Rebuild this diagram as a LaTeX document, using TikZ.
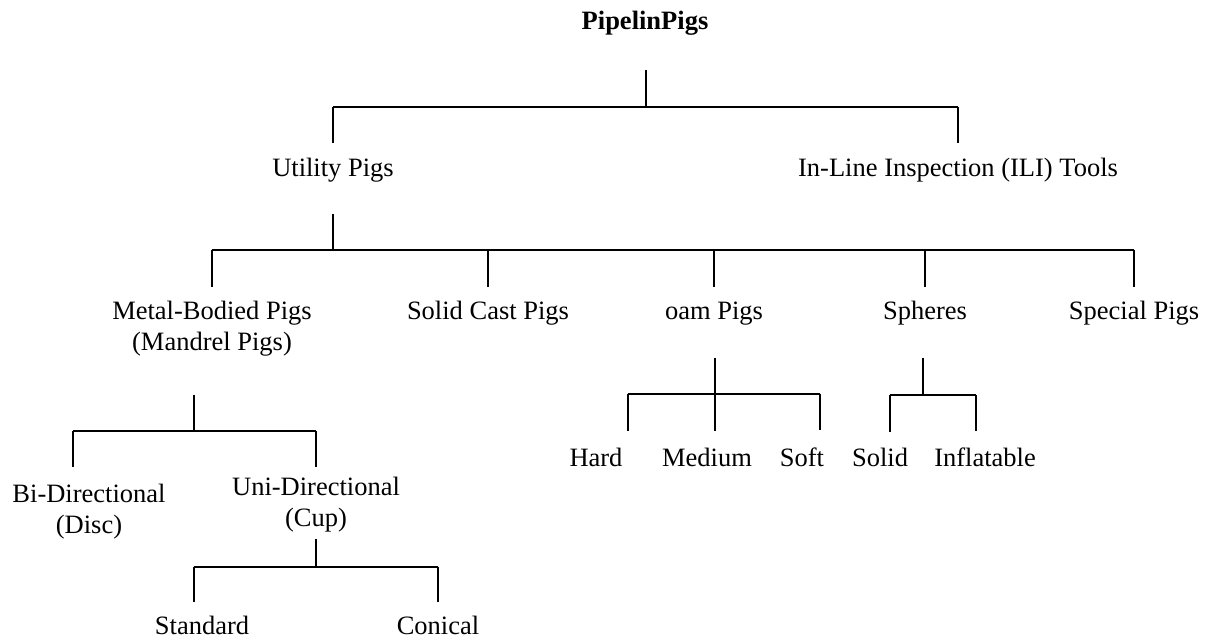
\documentclass[tikz,border=0pt]{standalone}
\usepackage{fontspec}
\setmainfont{Liberation Serif}

\begin{document}
\begin{tikzpicture}[
    x=0.5pt, y=-0.5pt,
    font=\fontsize{13.25}{15.75}\selectfont,
    lab/.style={inner sep=0pt, outer sep=0pt, anchor=base},
    labtwo/.style={inner sep=0pt, outer sep=0pt, anchor=north, align=center},
    bus/.style={line width=1.15pt},
    stem/.style={line width=0.85pt, shorten <=#1},
    drop/.style={line width=0.85pt, shorten >=#1},
    drop/.default=7.5pt
  ]
    \useasboundingbox (0,0) rectangle (1208,637);
    % nodes
    \node[lab, font=\fontsize{13.25}{15.75}\selectfont\bfseries] (root) at (645,29) {PipelinPigs};
    \node[lab] (util) at (333,176) {Utility Pigs};
    \node[lab] (ili) at (958,176) {In-Line Inspection (ILI) Tools};
    \node[labtwo] (metal) at (212,301) {Metal-Bodied Pigs\\(Mandrel Pigs)};
    \node[lab] (solidcast) at (488,319) {Solid Cast Pigs};
    \node[lab] (foam) at (714,319) {oam Pigs};
    \node[lab] (spheres) at (925,319) {Spheres};
    \node[lab] (special) at (1134,319) {Special Pigs};
    \node[labtwo] (bidir) at (89,484) {Bi-Directional\\(Disc)};
    \node[labtwo] (unidir) at (316,477) {Uni-Directional\\(Cup)};
    \node[lab] (standard) at (202,634) {Standard};
    \node[lab] (conical) at (438,634) {Conical};
    \node[lab] (hard) at (596,466) {Hard};
    \node[lab] (medium) at (707,466) {Medium};
    \node[lab] (soft) at (802,466) {Soft};
    \node[lab] (solid) at (880,466) {Solid};
    \node[lab] (inflatable) at (985,466) {Inflatable};
    % junctions
    \coordinate (j0) at (646,107);
    \coordinate (j1) at (333,250);
    \coordinate (j2) at (194,431);
    \coordinate (j3) at (316,567);
    \coordinate (j4) at (715,394);
    \coordinate (j5) at (923,395);
    \coordinate (dbi) at (73,431);
    \coordinate (dst) at (194,567);
    \coordinate (dha) at (628,394);
    \coordinate (dso) at (820,394);
    \coordinate (dsl) at (890,395);
    \coordinate (dif) at (976,395);
    % stems
    \draw[stem=17.5pt] (root.south -| j0) -- (j0);
    \draw[stem=16pt] (util.south -| j1) -- (j1);
    \draw[stem=19pt] (metal.south -| j2) -- (j2);
    \draw[stem=3pt] (unidir.south -| j3) -- (j3);
    \draw[stem=16.5pt] (foam.south -| j4) -- (j4);
    \draw[stem=16.5pt] (spheres.south -| j5) -- (j5);
    % pipeline pigs
    \draw[bus] (j0 -| util.north) -- (j0 -| ili.north);
    \foreach \n in {util, ili}
      \draw[drop] (j0 -| \n.north) -- (\n.north);
    % utility pigs
    \draw[bus] (j1 -| metal.north) -- (j1 -| special.north);
    \foreach \n in {metal, solidcast, foam, spheres, special}
      \draw[drop=7pt] (j1 -| \n.north) -- (\n.north);
    % mandrel pigs
    \draw[bus] (dbi) -- (j2 -| unidir.north);
    \draw[drop=8.5pt] (dbi) -- (dbi |- bidir.north);
    \draw[drop=5pt] (j2 -| unidir.north) -- (unidir.north);
    % cup
    \draw[bus] (dst) -- (j3 -| conical.north);
    \draw[drop=7pt] (dst) -- (dst |- standard.north);
    \draw[drop=7pt] (j3 -| conical.north) -- (conical.north);
    % foam
    \draw[bus] (dha) -- (dso);
    \draw[drop=8.5pt] (dha) -- (dha |- hard.north);
    \draw[drop=8.5pt] (j4) -- (j4 |- medium.north);
    \draw[drop=8.5pt] (dso) -- (dso |- soft.north);
    % spheres
    \draw[bus] (dsl) -- (dif);
    \draw[drop=8pt] (dsl) -- (dsl |- solid.north);
    \draw[drop=8pt] (dif) -- (dif |- inflatable.north);
\end{tikzpicture}
\end{document}
